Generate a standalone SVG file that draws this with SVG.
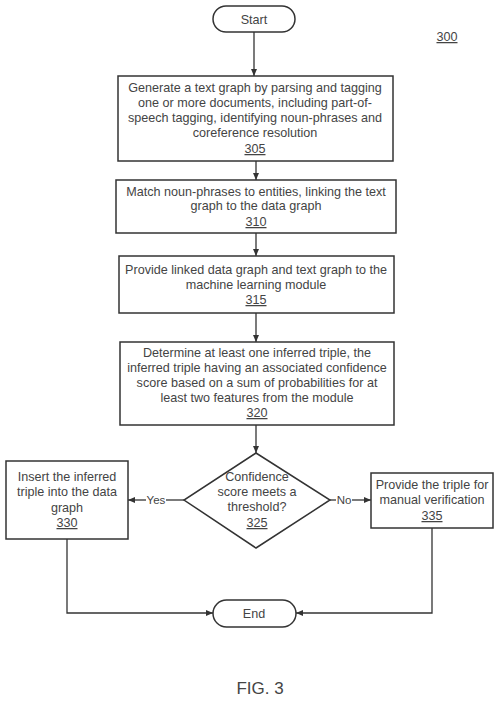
<svg xmlns="http://www.w3.org/2000/svg" width="500" height="701" viewBox="0 0 500 701">
<defs>
<marker id="ah" markerWidth="8" markerHeight="8" refX="7" refY="4" orient="auto" markerUnits="userSpaceOnUse">
<path d="M0,1 L7,4 L0,7 Z" fill="#333"/>
</marker>
<style>
.box{fill:#fff;stroke:#333;stroke-width:1.5}
.t{font-family:"Liberation Sans",Arial,sans-serif;font-size:12.6px;fill:#444;text-anchor:middle}
.n{text-decoration:underline}
.c{fill:none;stroke:#333;stroke-width:1.3}
.lbl{font-family:"Liberation Sans",Arial,sans-serif;font-size:11.5px;fill:#444;text-anchor:middle}
</style>
</defs>
<rect width="500" height="701" fill="#fff"/>
<g id="connectors">
<line class="c" x1="254" y1="32" x2="254" y2="76" marker-end="url(#ah)"/>
<line class="c" x1="256" y1="161" x2="256" y2="180" marker-end="url(#ah)"/>
<line class="c" x1="256" y1="233" x2="256" y2="256" marker-end="url(#ah)"/>
<line class="c" x1="256" y1="313" x2="256" y2="342" marker-end="url(#ah)"/>
<line class="c" x1="256" y1="425" x2="256" y2="453" marker-end="url(#ah)"/>
<line class="c" x1="184" y1="500" x2="166" y2="500"/>
<line class="c" x1="146" y1="500" x2="128" y2="500" marker-end="url(#ah)"/>
<line class="c" x1="330" y1="500" x2="336" y2="500"/>
<line class="c" x1="352" y1="500" x2="371" y2="500" marker-end="url(#ah)"/>
<text class="lbl" x="156" y="504">Yes</text>
<text class="lbl" x="344" y="504">No</text>
<polyline class="c" points="67,539 67,613 213,613" marker-end="url(#ah)"/>
<polyline class="c" points="432,528 432,613 296,613" marker-end="url(#ah)"/>
</g>
<g id="start">
<rect class="box" x="213" y="6" width="82" height="26" rx="13"/>
<text class="t" x="254" y="24">Start</text>
</g>
<g id="n300">
<text class="t n" x="447" y="41">300</text>
</g>
<g id="n305">
<rect class="box" x="118" y="76" width="275" height="85"/>
<text class="t" x="255" y="92">Generate a text graph by parsing and tagging</text>
<text class="t" x="255" y="107">one or more documents, including part-of-</text>
<text class="t" x="255" y="122">speech tagging, identifying noun-phrases and</text>
<text class="t" x="255" y="137">coreference resolution</text>
<text class="t n" x="255" y="153">305</text>
</g>
<g id="n310">
<rect class="box" x="116" y="180" width="280" height="53"/>
<text class="t" x="256" y="196">Match noun-phrases to entities, linking the text</text>
<text class="t" x="256" y="210">graph to the data graph</text>
<text class="t n" x="256" y="226">310</text>
</g>
<g id="n315">
<rect class="box" x="119" y="256" width="275" height="57"/>
<text class="t" x="256" y="274">Provide linked data graph and text graph to the</text>
<text class="t" x="256" y="289">machine learning module</text>
<text class="t n" x="256" y="304">315</text>
</g>
<g id="n320">
<rect class="box" x="120" y="342" width="274" height="83"/>
<text class="t" x="257" y="357">Determine at least one inferred triple, the</text>
<text class="t" x="257" y="372">inferred triple having an associated confidence</text>
<text class="t" x="257" y="387">score based on a sum of probabilities for at</text>
<text class="t" x="257" y="402">least two features from the module</text>
<text class="t n" x="257" y="417">320</text>
</g>
<g id="n325">
<polygon class="box" points="256,453 330,500 256,548 184,500"/>
<text class="t" x="257" y="481">Confidence</text>
<text class="t" x="257" y="496">score meets a</text>
<text class="t" x="257" y="511">threshold?</text>
<text class="t n" x="257" y="527">325</text>
</g>
<g id="n330">
<rect class="box" x="6" y="461" width="122" height="78"/>
<text class="t" x="67" y="481">Insert the inferred</text>
<text class="t" x="67" y="496">triple into the data</text>
<text class="t" x="67" y="512">graph</text>
<text class="t n" x="67" y="527">330</text>
</g>
<g id="n335">
<rect class="box" x="371" y="473" width="122" height="55"/>
<text class="t" x="432" y="489">Provide the triple for</text>
<text class="t" x="432" y="504">manual verification</text>
<text class="t n" x="432" y="520">335</text>
</g>
<g id="end">
<rect class="box" x="213" y="600" width="83" height="27" rx="13.5"/>
<text class="t" x="254" y="618">End</text>
</g>
<g id="fig">
<text x="260" y="694" style="font-family:'Liberation Sans',Arial,sans-serif;font-size:17px;fill:#444;text-anchor:middle">FIG. 3</text>
</g>
</svg>
